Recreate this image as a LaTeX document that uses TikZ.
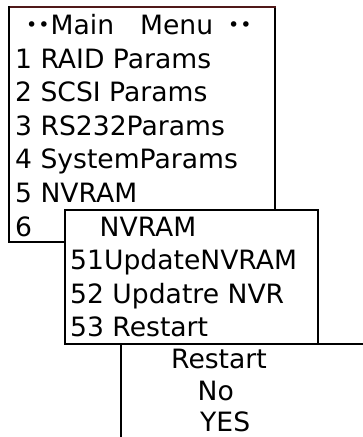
\documentclass[tikz,border=0pt]{standalone}
\usepackage{fontspec}
\setmainfont{DejaVu Sans}
\usetikzlibrary{positioning}
\definecolor{topline}{RGB}{80,25,25}
\newcommand\menudot{\raisebox{3pt}{\fontsize{19}{19}\selectfont •}}

\begin{document}
\begin{tikzpicture}[x=1pt,y=-1pt]
\tikzstyle{row}=[anchor=base west, inner sep=0pt, font=\fontsize{26.6}{30}\selectfont]
\tikzstyle{under}=[below=33.6pt of #1.base west, anchor=base west]
\tikzstyle{frame}=[line width=1.5pt, line cap=rect]
	\useasboundingbox (0,0) rectangle (363,437);
	% main menu
	\draw[frame] (275,210) -- (275,7);
	\draw[frame,topline] (275,7) -- (9,7);
	\draw[frame] (9,7) |- (65,242);
	\node[row] (title) at (26,34.5) {\menudot\hspace{1pt}\menudot\hspace{1pt}Main\hspace{26pt}Menu\hspace{15pt}\menudot\hspace{1pt}\menudot};
	\node[row] (m1) at (15,68.1) {1 RAID Params};
	\node[row,under=m1] (m2) {2 SCSI Params};
	\node[row,under=m2] (m3) {3 RS232Params};
	\node[row,under=m3] (m4) {4 SystemParams};
	\node[row,under=m4] (m5) {5 NVRAM};
	\node[row,under=m5] (m6) {6};
	% NVRAM menu
	\draw[frame,fill=white] (65,344) -- (65,210) -| (318,344);
	\draw[frame] (65,344) -- (363,344);
	\node[row] (nv) at (99.5,236.1) {NVRAM};
	\node[row] (n1) at (70,269.7) {51UpdateNVRAM};
	\node[row,under=n1] (n2) {52 Updatre NVR};
	\node[row,under=n2] (n3) {53 Restart};
	% restart menu
	\draw[frame] (121,344) -- (121,437);
	\node[row] (rs) at (171,368.5) {Restart};
	\node[row] (no) at (197.5,400) {No};
	\node[row] (yes) at (200,431) {YES};
\end{tikzpicture}
\end{document}
